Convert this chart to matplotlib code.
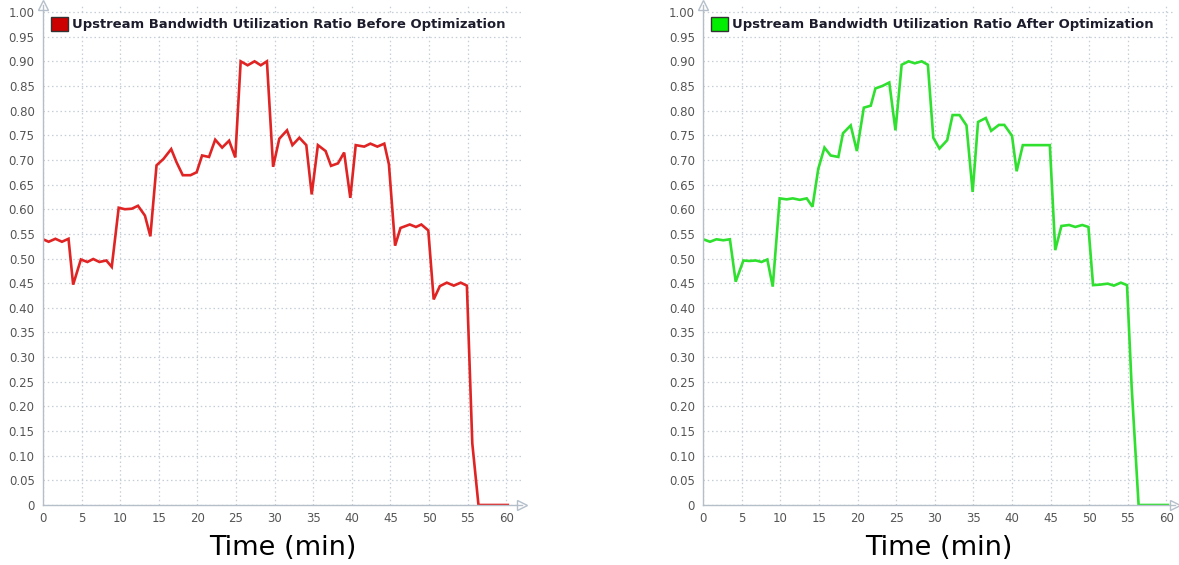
import matplotlib.pyplot as plt
from matplotlib.patches import Patch
from matplotlib.ticker import FuncFormatter

# data (time in min, ratio)
t_before = [0, 0.73, 1.6, 2.45, 3.3, 3.9, 4.9, 5.75, 6.5, 7.3, 8.2, 8.9, 9.8, 10.6,
            11.5, 12.3, 13.2, 13.9, 14.7, 15.6, 16.6, 17.3, 18.1, 19.1, 19.9, 20.6,
            21.5, 22.3, 23.2, 24.1, 24.9, 25.6, 26.5, 27.4, 28.2, 29.0, 29.8, 30.6,
            31.6, 32.3, 33.2, 34.1, 34.8, 35.6, 36.6, 37.3, 38.2, 39.0, 39.8, 40.5,
            41.6, 42.4, 43.3, 44.2, 44.8, 45.6, 46.3, 47.5, 48.3, 49.0, 49.9, 50.6,
            51.4, 52.3, 53.2, 54.1, 54.9, 55.6, 56.4, 60.2]
u_before = [0.539, 0.534, 0.540, 0.534, 0.540, 0.447, 0.498, 0.493, 0.499, 0.493,
            0.496, 0.483, 0.603, 0.600, 0.601, 0.607, 0.587, 0.545, 0.689, 0.702,
            0.722, 0.695, 0.669, 0.669, 0.675, 0.709, 0.706, 0.741, 0.725, 0.739,
            0.705, 0.900, 0.892, 0.900, 0.892, 0.900, 0.686, 0.743, 0.760, 0.730,
            0.745, 0.730, 0.630, 0.730, 0.718, 0.688, 0.693, 0.715, 0.623, 0.730,
            0.727, 0.733, 0.727, 0.733, 0.691, 0.526, 0.562, 0.569, 0.564, 0.569,
            0.557, 0.417, 0.444, 0.451, 0.445, 0.451, 0.445, 0.125, 0.0, 0.0]

t_after = [0, 0.87, 1.7, 2.6, 3.45, 4.2, 5.2, 5.95, 6.8, 7.55, 8.3, 9.0, 9.9, 10.8,
           11.6, 12.5, 13.4, 14.15, 14.9, 15.7, 16.5, 17.5, 18.1, 19.1, 19.9, 20.8,
           21.7, 22.3, 23.2, 24.1, 24.9, 25.7, 26.6, 27.4, 28.3, 29.1, 29.8, 30.6,
           31.6, 32.3, 33.2, 34.1, 34.9, 35.6, 36.6, 37.3, 38.3, 39.0, 40.0, 40.6,
           41.4, 44.9, 45.6, 46.4, 47.4, 48.2, 49.1, 49.9, 50.5, 51.4, 52.4, 53.2,
           54.1, 54.9, 55.5, 56.4, 60.2]
u_after = [0.539, 0.534, 0.539, 0.537, 0.539, 0.453, 0.496, 0.495, 0.496, 0.493,
           0.498, 0.443, 0.622, 0.620, 0.622, 0.619, 0.622, 0.605, 0.682, 0.725,
           0.709, 0.706, 0.754, 0.770, 0.718, 0.806, 0.810, 0.845, 0.850, 0.857,
           0.760, 0.893, 0.900, 0.896, 0.900, 0.893, 0.745, 0.723, 0.740, 0.791,
           0.791, 0.770, 0.635, 0.777, 0.785, 0.759, 0.771, 0.771, 0.749, 0.677,
           0.730, 0.730, 0.517, 0.566, 0.568, 0.564, 0.568, 0.564, 0.446, 0.447,
           0.449, 0.445, 0.451, 0.446, 0.240, 0.0, 0.0]

x_ticks = list(range(0, 61, 5))
y_ticks = [i * 0.05 for i in range(21)]

label_before = 'Upstream Bandwidth Utilization Ratio Before Optimization'
label_after = 'Upstream Bandwidth Utilization Ratio After Optimization'

axis_col = '#b4bfca'
grid_col = '#c5ced6'
tick_col = '#555555'


def fmt_y(v, pos):
    return '0' if abs(v) < 1e-9 else f'{v:.2f}'


def draw_panel(ax, t, u, line_col, box_col, label, xmax):
    ax.plot(t, u, color=line_col, lw=1.9, solid_joinstyle='miter')
    ax.set_xlim(0, xmax)
    ax.set_ylim(0, 1.015)
    ax.set_xticks(x_ticks)
    ax.set_yticks(y_ticks)
    ax.yaxis.set_major_formatter(FuncFormatter(fmt_y))
    ax.grid(True, color=grid_col, ls=(0, (1.2, 2.2)), lw=0.9)
    for s in ['top', 'right']:
        ax.spines[s].set_visible(False)
    for s in ['left', 'bottom']:
        ax.spines[s].set_color(axis_col)
        ax.spines[s].set_linewidth(1.0)
    ax.tick_params(length=0, labelsize=8.5, colors=tick_col, pad=6)
    ax.tick_params(axis='x', pad=5)
    # open arrow heads at the axis ends
    ax.plot(1, 0, marker='>', ms=7, mfc='white', mec=axis_col, mew=1,
            transform=ax.transAxes, clip_on=False)
    ax.plot(0, 1, marker='^', ms=7, mfc='white', mec=axis_col, mew=1,
            transform=ax.transAxes, clip_on=False)
    ax.set_xlabel('Time (min)', fontsize=19.5, color='black', labelpad=7)
    leg = ax.legend(handles=[Patch(facecolor=box_col, edgecolor='#333333', lw=1, label=label)],
                    loc='upper left', bbox_to_anchor=(0.003, 0.988), frameon=True,
                    handlelength=1.3, handleheight=1.2, handletextpad=0.3,
                    borderpad=0.2, borderaxespad=0.3,
                    prop={'weight': 'bold', 'size': 9.45})
    leg.get_frame().set_edgecolor('white')
    leg.get_frame().set_facecolor('white')
    leg.get_frame().set_alpha(1)
    leg.get_texts()[0].set_color('#1c1c2c')


fig = plt.figure(figsize=(11.79, 5.65), dpi=100)
ax1 = fig.add_axes([0.0365, 0.1062, 0.406, 0.8856])
ax2 = fig.add_axes([0.5965, 0.1062, 0.400, 0.8856])

draw_panel(ax1, t_before, u_before, '#e02424', '#cc0000', label_before, 62)
draw_panel(ax2, t_after, u_after, '#2fe02f', '#00ee00', label_after, 61.1)

fig.savefig('out.png', dpi=100, facecolor='white')
